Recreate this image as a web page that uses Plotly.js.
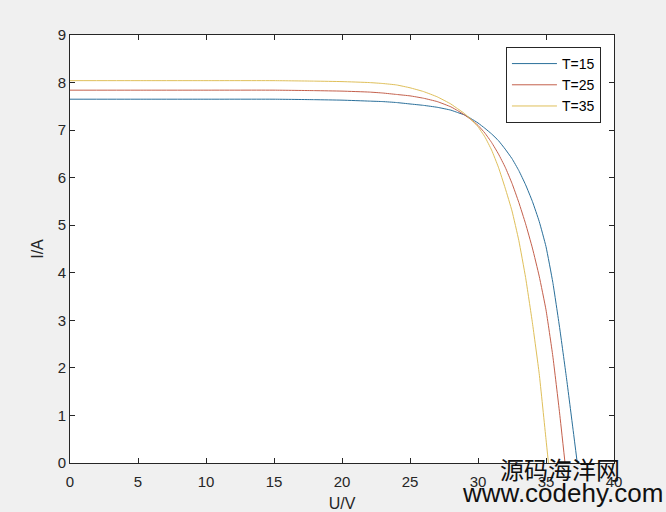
<!DOCTYPE html>
<html>
<head>
<meta charset="utf-8">
<script src="https://cdn.plot.ly/plotly-3.0.1.min.js"></script>
<style>html,body{margin:0;padding:0;background:#f0f0f0;}#chart{width:666px;height:512px;}</style>
</head>
<body>
<div id="chart"></div>
<script>
// T=15
const u15 = [0, 5, 10, 15, 18, 20, 22, 23, 24, 25, 26, 27, 28, 28.5, 29, 29.5, 30, 30.5, 31, 31.5, 32, 32.5, 33, 33.5, 34, 34.5, 35, 35.5, 36, 36.5, 37, 37.3];
const i15 = [7.65, 7.65, 7.65, 7.65, 7.64, 7.63, 7.61, 7.60, 7.58, 7.55, 7.52, 7.48, 7.42, 7.37, 7.32, 7.24, 7.15, 7.04, 6.92, 6.78, 6.60, 6.40, 6.15, 5.85, 5.50, 5.08, 4.55, 3.80, 2.85, 1.80, 0.68, 0];
// T=25
const u25 = [0, 5, 10, 15, 18, 20, 22, 23, 24, 25, 26, 27, 28, 28.5, 29, 29.5, 30, 30.5, 31, 31.5, 32, 32.5, 33, 33.5, 34, 34.5, 35, 35.5, 36, 36.4];
const i25 = [7.84, 7.84, 7.84, 7.84, 7.83, 7.82, 7.80, 7.78, 7.75, 7.72, 7.67, 7.60, 7.49, 7.41, 7.32, 7.22, 7.10, 6.94, 6.74, 6.50, 6.22, 5.88, 5.48, 5.03, 4.52, 3.93, 3.22, 2.25, 1.05, 0];
// T=35
const u35 = [0, 5, 10, 15, 18, 20, 22, 23, 24, 25, 26, 27, 28, 28.5, 29, 29.5, 30, 30.5, 31, 31.5, 32, 32.5, 33, 33.5, 34, 34.5, 35, 35.18];
const i35 = [8.04, 8.04, 8.04, 8.04, 8.03, 8.02, 8.00, 7.98, 7.95, 7.89, 7.81, 7.70, 7.55, 7.45, 7.35, 7.22, 7.07, 6.86, 6.58, 6.22, 5.78, 5.30, 4.68, 3.90, 2.95, 1.88, 0.50, 0];

const seriesNames = ['T=15', 'T=25', 'T=35'];
const seriesColors = ['#2a6f9a', '#c4604c', '#dfbf5a'];
const xs = [u15, u25, u35];
const ys = [i15, i25, i35];

const traces = xs.map((x, k) => ({
  x: x, y: ys[k], type: 'scatter', mode: 'lines', name: seriesNames[k],
  line: {color: seriesColors[k], width: 1, shape: 'spline', smoothing: 0.4}
}));

const FONT = 'Liberation Sans, Arial, sans-serif';
const axisCommon = {
  showgrid: false, zeroline: false, ticks: 'inside', ticklen: 5, tickwidth: 1,
  tickcolor: '#262626', showline: true, linecolor: '#262626', linewidth: 1, mirror: 'ticks',
  tickfont: {family: FONT, size: 15, color: '#262626'}
};

const layout = {
  width: 666, height: 512,
  paper_bgcolor: '#f0f0f0', plot_bgcolor: '#ffffff',
  margin: {l: 70, r: 52, t: 35, b: 49},
  showlegend: true,
  legend: {
    x: 0.976, y: 0.972, xanchor: 'right', yanchor: 'top',
    bgcolor: '#ffffff', bordercolor: '#262626', borderwidth: 1,
    font: {family: FONT, size: 14, color: '#000000'},
    itemwidth: 45, tracegroupgap: 0
  },
  xaxis: Object.assign({}, axisCommon, {
    range: [0, 40], dtick: 5, tick0: 0, ticklabelstandoff: 5,
    title: {text: 'U/V', standoff: 8, font: {family: FONT, size: 16, color: '#262626'}}
  }),
  yaxis: Object.assign({}, axisCommon, {
    range: [0, 9], dtick: 1, tick0: 0,
    title: {text: 'I/A', standoff: 10, font: {family: FONT, size: 16, color: '#262626'}}
  }),
  annotations: [
    {text: '源码海洋网', xref: 'paper', yref: 'paper', x: (560 - 70) / 544, y: (463 - 468) / 428,
     xanchor: 'center', yanchor: 'middle', showarrow: false,
     font: {family: 'Noto Sans CJK SC', size: 24, color: '#111111'}},
    {text: 'www.codehy.com', xref: 'paper', yref: 'paper', x: (562 - 70) / 544, y: (463 - 493) / 428,
     xanchor: 'center', yanchor: 'middle', showarrow: false,
     font: {family: FONT, size: 26, color: '#111111'}}
  ]
};

Plotly.newPlot('chart', traces, layout, {displayModeBar: false, staticPlot: true});
</script>
</body>
</html>
